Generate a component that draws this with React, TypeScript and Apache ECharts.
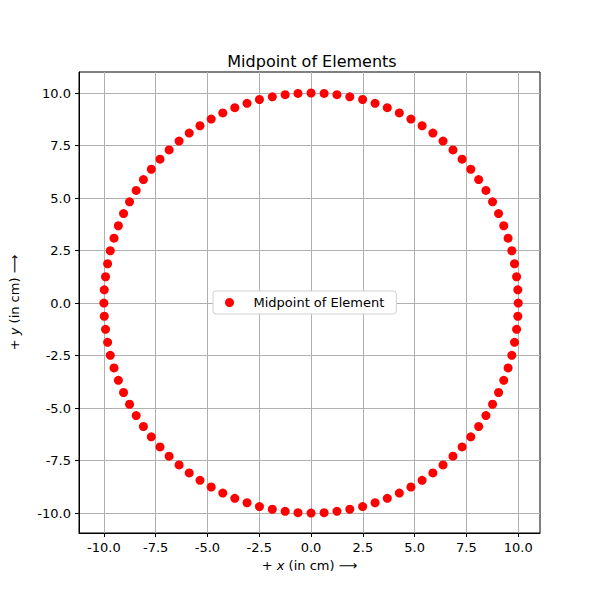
import * as echarts from "echarts";
import { useEffect, useRef } from "react";

const xs = [
  10, 9.98, 9.92, 9.82, 9.69, 9.51, 9.3, 9.05, 8.76, 8.44, 8.09, 7.71, 7.29, 6.85, 6.37, 5.88, 5.36, 4.82, 4.26, 3.68, 3.09, 2.49, 1.87, 1.25, 0.63, 0,
  -0.63, -1.25, -1.87, -2.49, -3.09, -3.68, -4.26, -4.82, -5.36, -5.88, -6.37, -6.85, -7.29, -7.71, -8.09, -8.44, -8.76, -9.05, -9.3, -9.51, -9.69, -9.82, -9.92, -9.98, -10,
  -9.98, -9.92, -9.82, -9.69, -9.51, -9.3, -9.05, -8.76, -8.44, -8.09, -7.71, -7.29, -6.85, -6.37, -5.88, -5.36, -4.82, -4.26, -3.68, -3.09, -2.49, -1.87, -1.25, -0.63, 0,
  0.63, 1.25, 1.87, 2.49, 3.09, 3.68, 4.26, 4.82, 5.36, 5.88, 6.37, 6.85, 7.29, 7.71, 8.09, 8.44, 8.76, 9.05, 9.3, 9.51, 9.69, 9.82, 9.92, 9.98
];
const ys = [
  0, 0.63, 1.25, 1.87, 2.49, 3.09, 3.68, 4.26, 4.82, 5.36, 5.88, 6.37, 6.85, 7.29, 7.71, 8.09, 8.44, 8.76, 9.05, 9.3, 9.51, 9.69, 9.82, 9.92, 9.98, 10,
  9.98, 9.92, 9.82, 9.69, 9.51, 9.3, 9.05, 8.76, 8.44, 8.09, 7.71, 7.29, 6.85, 6.37, 5.88, 5.36, 4.82, 4.26, 3.68, 3.09, 2.49, 1.87, 1.25, 0.63, 0,
  -0.63, -1.25, -1.87, -2.49, -3.09, -3.68, -4.26, -4.82, -5.36, -5.88, -6.37, -6.85, -7.29, -7.71, -8.09, -8.44, -8.76, -9.05, -9.3, -9.51, -9.69, -9.82, -9.92, -9.98, -10,
  -9.98, -9.92, -9.82, -9.69, -9.51, -9.3, -9.05, -8.76, -8.44, -8.09, -7.71, -7.29, -6.85, -6.37, -5.88, -5.36, -4.82, -4.26, -3.68, -3.09, -2.49, -1.87, -1.25, -0.63
];
const ticks = [-10, -7.5, -5, -2.5, 0, 2.5, 5, 7.5, 10];

const font = "DejaVu Sans";

function axis(min: number, max: number, name: string, isY: boolean) {
  return {
    type: "value",
    min,
    max,
    name,
    nameLocation: "middle",
    nameGap: isY ? 58 : 26,
    nameTextStyle: {
      fontFamily: font,
      fontSize: 13,
      color: "#000",
      rich: { i: { fontStyle: "italic", fontFamily: font, fontSize: 13, color: "#000" } }
    },
    axisLine: { show: true, onZero: false, lineStyle: { color: "#000", width: 1 } },
    axisTick: { show: true, customValues: ticks, length: 4, lineStyle: { color: "#000" } },
    axisLabel: {
      customValues: ticks,
      fontFamily: font,
      fontSize: 13,
      color: "#000",
      formatter: (v: number) => v.toFixed(1)
    },
    splitLine: { show: true, lineStyle: { color: "#b0b0b0", width: 1 } }
  };
}

export default function App() {
  const ref = useRef<HTMLDivElement | null>(null);

  useEffect(() => {
    if (!ref.current) {
      return;
    }
    document.body.style.margin = "0";
    const chart = echarts.init(ref.current, null, { renderer: "svg" });
    chart.setOption({
      animation: false,
      backgroundColor: "#fff",
      title: {
        text: "Midpoint of Elements",
        left: 307,
        top: 48,
        textAlign: "center",
        textStyle: { fontFamily: font, fontSize: 16, fontWeight: "normal", color: "#000" }
      },
      legend: {
        left: 213,
        top: 291,
        width: 189,
        height: 25,
        padding: [5, 12, 5, 12],
        itemGap: 0,
        backgroundColor: "#fff",
        borderColor: "#d0d0d0",
        borderWidth: 1,
        borderRadius: 3,
        itemWidth: 26,
        itemHeight: 9,
        textStyle: { fontFamily: font, fontSize: 13, color: "#000", padding: [0, 0, 0, 6] },
        data: [{ name: "Midpoint of Element", icon: "circle" }]
      },
      grid: { left: 75, right: 60, top: 72, bottom: 67, show: true, borderColor: "#000", borderWidth: 1 },
      xAxis: axis(-11.2, 11.05, "+ {i|x} (in cm) ⟶", false),
      yAxis: axis(-10.95, 11.0, "+ {i|y} (in cm) ⟶", true),
      series: [
        {
          name: "Midpoint of Element",
          type: "scatter",
          symbol: "circle",
          symbolSize: 9,
          itemStyle: { color: "#ff0000", opacity: 1 },
          data: xs.map((x, i) => [x, ys[i]])
        }
      ]
    });
    return () => {
      chart.dispose();
    };
  }, []);

  return <div ref={ref} style={{ width: 600, height: 600 }} />;
}
